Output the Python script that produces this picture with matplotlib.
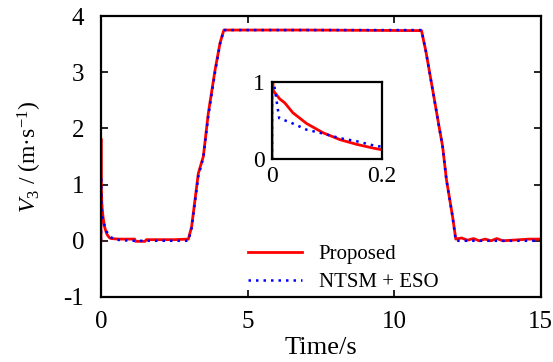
import matplotlib
matplotlib.use("Agg")
import matplotlib.pyplot as plt

plt.rcParams['font.family'] = ['Liberation Serif', 'DejaVu Serif']
plt.rcParams['mathtext.fontset'] = 'custom'
plt.rcParams['mathtext.rm'] = 'Liberation Serif'
plt.rcParams['mathtext.it'] = 'Liberation Serif:italic'
plt.rcParams['axes.unicode_minus'] = False

# Proposed (red)
t_prop = [0, 0, 0.002, 0.014, 0.023, 0.038, 0.063, 0.093, 0.124, 0.154, 0.185, 0.2,
          0.25, 0.3, 0.35, 0.6, 0.9, 1.15, 1.18, 1.5, 1.55, 2.0, 2.5, 2.98, 3.09,
          3.32, 3.49, 3.66, 3.89, 4.06, 4.19, 7.0, 10.93, 11.08, 11.33, 11.53, 11.65,
          11.78, 11.99, 12.1, 12.3, 12.5, 12.7, 12.9, 13.1, 13.3, 13.5, 13.7, 14.0,
          14.3, 14.6, 15.0]
v_prop = [0, 1.82, 0.89, 0.78, 0.73, 0.6, 0.46, 0.34, 0.25, 0.19, 0.14, 0.12,
          0.08, 0.05, 0.04, 0.03, 0.03, 0.03, -0.01, -0.01, 0.02, 0.02, 0.02, 0.03, 0.25,
          1.2, 1.5, 2.27, 3.04, 3.52, 3.75, 3.75, 3.74, 3.37, 2.63, 2.03, 1.68,
          1.09, 0.43, 0.03, 0.05, 0.01, 0.04, 0.0, 0.03, 0.0, 0.04, 0.0, 0.01,
          0.02, 0.03, 0.03]

# NTSM + ESO (blue)
t_ntsm = [0, 0, 0.013, 0.035, 0.063, 0.093, 0.124, 0.154, 0.188, 0.25, 0.35, 0.5,
          1.0, 2.0, 2.98, 3.09, 3.32, 3.49, 3.66, 3.89, 4.06, 4.19, 10.93, 11.08,
          11.33, 11.53, 11.65, 11.78, 11.99, 12.1, 13.0, 15.0]
v_ntsm = [0, 1.15, 0.53, 0.47, 0.38, 0.33, 0.27, 0.23, 0.17, 0.12, 0.06, 0.02,
          0.0, 0.0, 0.0, 0.22, 1.15, 1.48, 2.22, 3.0, 3.5, 3.75, 3.75, 3.37,
          2.63, 2.03, 1.68, 1.09, 0.43, 0.0, 0.0, 0.0]

xticks = [0, 5, 10, 15]
yticks = [-1, 0, 1, 2, 3, 4]

fig = plt.figure(figsize=(5.53, 3.62), dpi=100)
ax = fig.add_axes([0.1826, 0.1796, 0.7954, 0.7762])
ax.plot(t_prop, v_prop, color='#ff0000', lw=2.0, label='Proposed')
ax.plot(t_ntsm, v_ntsm, color='#0000ff', lw=1.8, linestyle=(0, (1, 2.0)), label='NTSM + ESO')
ax.set_xlim(0, 15)
ax.set_ylim(-1, 4)
ax.set_xticks(xticks)
ax.set_yticks(yticks)
ax.tick_params(direction='in', length=5, width=1.2, top=True, right=True, labelsize=18)
ax.tick_params(axis='x', pad=10)
ax.tick_params(axis='y', pad=12)
for s in ax.spines.values():
    s.set_linewidth(1.6)
ax.set_xlabel('Time/s', fontsize=19, labelpad=3)
ax.set_ylabel(r'$V_3$ / (m·s$^{-1}$)', fontsize=17, labelpad=14)
ax.legend(loc='lower center', bbox_to_anchor=(0.55, -0.035), frameon=False, fontsize=15,
          handlelength=2.6, handletextpad=0.8, labelspacing=0.4, borderaxespad=0.3)

ins = fig.add_axes([0.4919, 0.5608, 0.1989, 0.2127])
ins.plot(t_prop, v_prop, color='#ff0000', lw=2.0)
ins.plot(t_ntsm, v_ntsm, color='#0000ff', lw=1.8, linestyle=(0, (1, 2.0)))
ins.set_xlim(0, 0.2)
ins.set_ylim(0, 1)
ins.set_xticks([0, 0.2])
ins.set_xticklabels(['0', '0.2'])
ins.set_yticks([0, 1])
ins.tick_params(direction='in', length=0, labelsize=17, pad=5)
for s in ins.spines.values():
    s.set_linewidth(1.6)

fig.savefig('out.png', dpi=100)
